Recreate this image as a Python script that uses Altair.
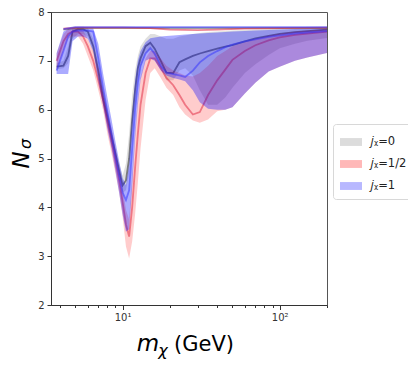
import altair as alt
import pandas as pd

# ---------------- data ----------------
x_vals = [3.8, 4.2, 4.5, 4.8, 5.2, 5.6, 6.0, 6.5, 7.0, 7.5, 8.0, 8.5, 9.0, 9.5, 10.0, 10.5,
          11.0, 11.5, 12.0, 12.5, 13.0, 14.0, 15.0, 16.0, 17.5, 19.0, 21.0, 23.0, 25.0, 28.0,
          31.0, 35.0, 40.0, 45.0, 50.0, 60.0, 70.0, 85.0, 100.0, 125.0, 150.0, 200.0]

grey_mid = [6.88, 6.90, 7.10, 7.60, 7.65, 7.65, 7.60, 7.30, 6.80, 6.25, 5.85, 5.45, 5.10, 4.75, 4.45,
            4.55, 5.00, 5.80, 6.40, 6.85, 7.05, 7.30, 7.37, 7.25, 7.00, 6.76, 6.75, 6.97, 7.03, 7.10,
            7.15, 7.20, 7.25, 7.29, 7.32, 7.40, 7.46, 7.51, 7.55, 7.59, 7.61, 7.64]
grey_lo = [6.83, 6.85, 6.95, 7.45, 7.55, 7.55, 7.50, 7.15, 6.65, 6.10, 5.70, 5.30, 4.95, 4.60, 4.30,
           4.35, 4.70, 5.40, 6.05, 6.55, 6.85, 7.15, 7.22, 7.10, 6.85, 6.60, 6.60, 6.80, 6.85, 6.70,
           6.40, 6.10, 6.10, 6.25, 6.45, 6.75, 6.93, 7.12, 7.26, 7.35, 7.41, 7.47]
grey_hi = [6.95, 7.00, 7.30, 7.68, 7.70, 7.70, 7.68, 7.45, 6.95, 6.40, 6.00, 5.60, 5.25, 4.90, 4.65,
           4.90, 5.50, 6.30, 6.80, 7.10, 7.30, 7.45, 7.55, 7.55, 7.50, 7.45, 7.45, 7.50, 7.52, 7.55,
           7.57, 7.59, 7.60, 7.61, 7.62, 7.63, 7.64, 7.65, 7.66, 7.67, 7.67, 7.68]

red_mid = [7.00, 7.40, 7.55, 7.60, 7.60, 7.50, 7.30, 7.00, 6.60, 6.20, 5.75, 5.35, 4.95, 4.55, 4.10,
           3.65, 3.40, 4.00, 4.80, 5.50, 6.10, 6.75, 7.05, 7.05, 6.85, 6.65, 6.50, 6.30, 6.10, 5.90,
           5.95, 6.30, 6.60, 6.82, 7.02, 7.20, 7.32, 7.42, 7.48, 7.53, 7.56, 7.60]
red_lo = [6.80, 7.20, 7.45, 7.50, 7.50, 7.35, 7.10, 6.80, 6.40, 6.00, 5.50, 5.10, 4.70, 4.30, 3.80,
          3.20, 2.95, 3.30, 3.85, 4.50, 5.20, 6.20, 6.75, 6.85, 6.65, 6.45, 6.30, 6.05, 5.90, 5.78,
          5.73, 5.80, 5.97, 6.00, 6.05, 6.33, 6.55, 6.78, 6.88, 7.00, 7.07, 7.16]
red_hi = [7.15, 7.55, 7.65, 7.67, 7.67, 7.62, 7.45, 7.20, 6.85, 6.45, 6.00, 5.60, 5.20, 4.80, 4.40,
          3.95, 3.75, 4.60, 5.50, 6.20, 6.65, 7.05, 7.20, 7.20, 7.05, 6.90, 6.80, 6.75, 6.70, 6.68,
          6.75, 6.90, 7.10, 7.20, 7.30, 7.38, 7.45, 7.52, 7.56, 7.60, 7.62, 7.65]

blue_mid = [6.80, 7.20, 7.50, 7.60, 7.62, 7.62, 7.62, 7.60, 7.05, 6.45, 5.95, 5.50, 5.05, 4.65, 4.30,
            4.15, 4.35, 5.20, 6.00, 6.55, 6.90, 7.15, 7.26, 7.15, 6.90, 6.76, 6.73, 6.70, 6.67, 6.80,
            6.97, 7.10, 7.20, 7.28, 7.33, 7.40, 7.44, 7.49, 7.52, 7.56, 7.58, 7.61]
blue_lo = [6.73, 6.73, 6.73, 7.40, 7.50, 7.50, 7.45, 7.20, 6.60, 6.10, 5.60, 5.20, 4.75, 4.30, 3.85,
           3.50, 3.55, 4.40, 5.40, 6.10, 6.60, 7.00, 7.05, 7.00, 6.80, 6.70, 6.65, 6.62, 6.58, 6.40,
           6.15, 6.02, 6.00, 6.00, 6.05, 6.33, 6.55, 6.78, 6.88, 7.00, 7.07, 7.16]
blue_hi = [7.16, 7.60, 7.65, 7.66, 7.66, 7.66, 7.66, 7.66, 7.35, 6.75, 6.25, 5.80, 5.35, 4.95, 4.60,
           4.45, 4.90, 5.90, 6.60, 7.00, 7.20, 7.38, 7.46, 7.48, 7.50, 7.51, 7.52, 7.53, 7.54, 7.55,
           7.56, 7.57, 7.58, 7.59, 7.60, 7.61, 7.62, 7.63, 7.64, 7.65, 7.66, 7.67]

top_x = [4.2, 5.0, 10.0, 15.0, 20.0, 30.0, 40.0, 60.0, 100.0, 200.0]
grey_top = [7.64, 7.67, 7.67, 7.67, 7.67, 7.67, 7.67, 7.67, 7.67, 7.67]
red_top = [7.66, 7.68, 7.68, 7.67, 7.64, 7.63, 7.64, 7.66, 7.67, 7.68]
blue_top = [7.65, 7.69, 7.69, 7.69, 7.69, 7.69, 7.69, 7.69, 7.69, 7.69]

series_names = ["𝑗ᵪ=0", "𝑗ᵪ=1/2", "𝑗ᵪ=1"]
series_colors = ["#808080", "#ff0000", "#0000ff"]
y_ticks = [2, 3, 4, 5, 6, 7, 8]
x_ticks = [4, 5, 6, 7, 8, 9, 10, 20, 30, 40, 50, 60, 70, 80, 90, 100, 200]


def band_frame(name, lo, mid, hi):
    return pd.DataFrame({"x": x_vals, "lo": lo, "mid": mid, "hi": hi, "series": name})


def top_frame(name, vals):
    return pd.DataFrame({"x": top_x, "y": vals, "series": name})


frames = [band_frame(series_names[0], grey_lo, grey_mid, grey_hi),
          band_frame(series_names[1], red_lo, red_mid, red_hi),
          band_frame(series_names[2], blue_lo, blue_mid, blue_hi)]
tops = [top_frame(series_names[0], grey_top),
        top_frame(series_names[1], red_top),
        top_frame(series_names[2], blue_top)]

FONT = "DejaVu Sans"

x_enc = alt.X("x:Q",
              scale=alt.Scale(type="log", domain=[3.5, 200], nice=False),
              axis=alt.Axis(values=x_ticks, title=None, grid=False,
                            labelExpr="datum.value == 10 ? '10¹' : (datum.value == 100 ? '10²' : '')",
                            tickSize={"condition": {"test": "datum.value == 10 || datum.value == 100",
                                                    "value": 4.5}, "value": 2.5},
                            labelFontSize=10, labelPadding=3, labelFlush=False))
y_scale = alt.Scale(domain=[2, 8], nice=False)
y_axis = alt.Axis(values=y_ticks, title=None, grid=False, tickSize=4, labelFontSize=10, labelPadding=3)

color_scale = alt.Scale(domain=series_names, range=series_colors)
legend = alt.Legend(title=None, orient="none", legendX=282, legendY=112,
                    symbolType="M-1,-0.36H1V0.36H-1Z", symbolSize=484, symbolOpacity=0.28,
                    symbolStrokeWidth=0, labelFont=FONT, labelFontSize=11.5, labelColor="#222",
                    padding=7, rowPadding=5, strokeColor="#d8d8d8", fillColor="white",
                    cornerRadius=3, labelOffset=8)

band_opacity = [0.25, 0.2, 0.33]
line_colors = ["#505050", "#e0203a", "#3030ff"]
line_opacity = [0.7, 0.5, 0.5]

layers = []
for i in range(3):
    area = alt.Chart(frames[i]).mark_area(opacity=band_opacity[i], clip=True).encode(
        x=x_enc,
        y=alt.Y("lo:Q", scale=y_scale, axis=y_axis),
        y2="hi:Q",
        color=alt.Color("series:N", scale=color_scale, legend=legend),
    )
    line = alt.Chart(frames[i]).mark_line(color=line_colors[i], opacity=line_opacity[i],
                                          strokeWidth=1.8, clip=True).encode(
        x=x_enc, y=alt.Y("mid:Q", scale=y_scale, axis=y_axis))
    layers += [area, line]

for i in range(3):
    layers.append(alt.Chart(tops[i]).mark_line(color=line_colors[i], opacity=0.55,
                                               strokeWidth=1.8, clip=True).encode(
        x=x_enc, y=alt.Y("y:Q", scale=y_scale, axis=y_axis)))

# axis titles with sub-scripts
def label(text, size, x, y, style="normal", angle=0, align="center", baseline="alphabetic"):
    return alt.Chart(pd.DataFrame({"t": [text]})).mark_text(
        font=FONT, fontSize=size, fontStyle=style, angle=angle, align=align,
        baseline=baseline, color="black").encode(text="t:N", x=alt.value(x), y=alt.value(y))

layers += [
    label("m", 23, 97, 339, style="italic"),
    label("χ", 16, 112, 344, style="italic"),
    label("(GeV)", 21, 123, 339, align="left"),
    label("N", 23, -22, 148, style="italic", angle=270),
    label("σ", 16, -20, 132, style="italic", angle=270),
]

chart = alt.layer(*layers).properties(
    width=276, height=293, autosize="none",
    padding={"left": 43, "top": 4, "right": 81, "bottom": 62},
).configure_view(stroke="#555", strokeWidth=1).configure_axis(
    domainColor="#333", tickColor="#333", labelColor="#333", labelFont=FONT
)

chart.save("out.html", embed_options={"renderer": "svg", "actions": False})
